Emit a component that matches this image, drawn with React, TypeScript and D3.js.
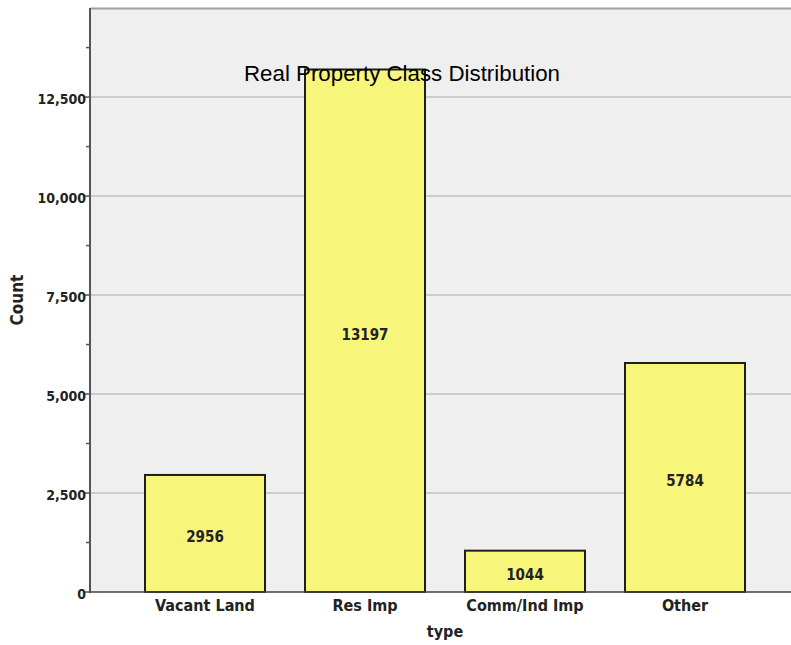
import React from "react";
import * as d3 from "d3";

const categories = ["Vacant Land", "Res Imp", "Comm/Ind Imp", "Other"];
const counts = [2956, 13197, 1044, 5784];
const majorTicks = [0, 2500, 5000, 7500, 10000, 12500];
const minorTicks = [1250, 3750, 6250, 8750, 11250, 13750];

const W = 791;
const H = 645;
const left = 90;
const top = 8;
const bottom = 592;
const right = 800;

export default function App() {
  const y = d3.scaleLinear().domain([0, 14750]).range([bottom, top]);
  const x = d3
    .scaleBand<string>()
    .domain(categories)
    .range([125, 765])
    .paddingInner(0.25)
    .paddingOuter(0.125);
  const fmt = d3.format(",");
  const cond = "'DejaVu Sans Condensed', 'DejaVu Sans', sans-serif";
  const sans = "'Liberation Sans', Arial, sans-serif";

  return (
    <svg
      width={W}
      height={H}
      style={{ position: "absolute", left: 0, top: 0, background: "#fff" }}
    >
      <rect x={left} y={top} width={right - left} height={bottom - top} fill="#efefef" />
      <line x1={left} x2={right} y1={top + 0.5} y2={top + 0.5} stroke="#a0a0a0" strokeWidth={2} />
      {majorTicks.slice(1).map((t) => (
        <line key={t} x1={left} x2={right} y1={y(t)} y2={y(t)} stroke="#c0c0c0" strokeWidth={1.5} />
      ))}
      {categories.map((c, i) => (
        <g key={c}>
          <rect
            x={x(c)}
            y={y(counts[i])}
            width={x.bandwidth()}
            height={bottom - y(counts[i])}
            fill="#f8f67a"
            stroke="#1e1e1e"
            strokeWidth={2}
          />
          <text
            x={(x(c) as number) + x.bandwidth() / 2}
            y={(y(counts[i]) + bottom) / 2 + 9}
            textAnchor="middle"
            fontFamily={cond}
            fontSize={15}
            fontWeight="bold"
            fill="#222"
          >
            {counts[i]}
          </text>
          <text
            x={(x(c) as number) + x.bandwidth() / 2}
            y={611}
            textAnchor="middle"
            fontFamily={cond}
            fontSize={16}
            fontWeight="bold"
            fill="#222"
          >
            {c}
          </text>
        </g>
      ))}
      <text x={402} y={81} textAnchor="middle" fontFamily={sans} fontSize={22.3} fill="#000">
        Real Property Class Distribution
      </text>
      <line x1={left} x2={left} y1={top} y2={bottom + 1} stroke="#555" strokeWidth={2} />
      <line x1={left} x2={right} y1={bottom} y2={bottom} stroke="#444" strokeWidth={1.5} />
      {majorTicks.map((t) => (
        <g key={t}>
          <line x1={left - 5} x2={left} y1={y(t)} y2={y(t)} stroke="#555" strokeWidth={1.5} />
          <text
            x={86}
            y={y(t) + 7}
            textAnchor="end"
            fontFamily={cond}
            fontSize={14}
            fontWeight="bold"
            fill="#222"
          >
            {fmt(t)}
          </text>
        </g>
      ))}
      {minorTicks.map((t) => (
        <line key={t} x1={left - 4} x2={left} y1={y(t)} y2={y(t)} stroke="#555" strokeWidth={1.5} />
      ))}
      <text
        transform={`translate(23,300) rotate(-90)`}
        textAnchor="middle"
        fontFamily={cond}
        fontSize={17}
        fontWeight="bold"
        fill="#222"
      >
        Count
      </text>
      <text x={445} y={637} textAnchor="middle" fontFamily={cond} fontSize={16} fontWeight="bold" fill="#222">
        type
      </text>
    </svg>
  );
}
